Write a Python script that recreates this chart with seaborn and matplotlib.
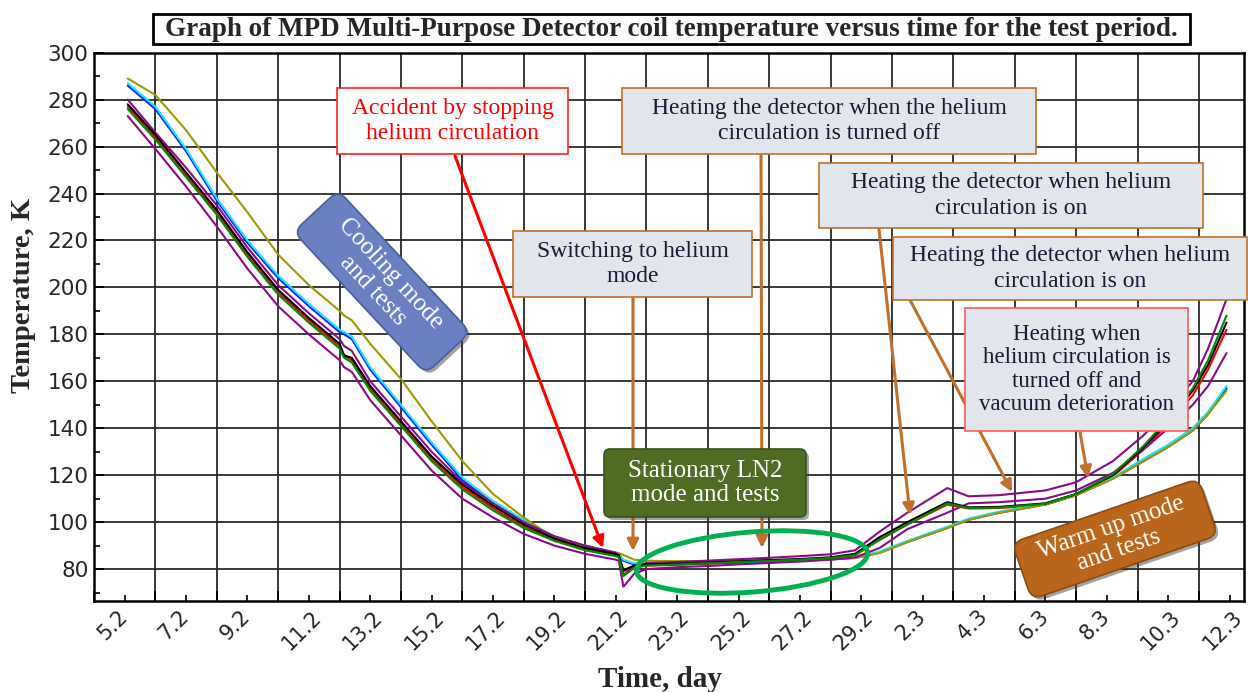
import matplotlib.pyplot as plt
import matplotlib.patches as mpatches
import matplotlib.transforms as mtransforms
from matplotlib.ticker import MultipleLocator
import pandas as pd
import seaborn as sns

# day 0 = 5 Feb; labels every two days
tick_days = list(range(0, 37, 2))
tick_labels = ["5.2", "7.2", "9.2", "11.2", "13.2", "15.2", "17.2", "19.2", "21.2",
               "23.2", "25.2", "27.2", "29.2", "2.3", "4.3", "6.3", "8.3", "10.3", "12.3"]

days = [1.1, 2, 3, 4, 5, 6, 7, 8, 8.15, 8.4, 9, 10, 11, 12, 13, 14, 15, 16, 17,
        17.1, 17.25, 17.6, 18, 19, 20, 21, 22, 23, 24, 24.8, 25.6, 26.5, 27.8,
        28.5, 29.5, 31, 32, 33.2, 34.2, 35, 35.8, 36.3, 36.9]

t_red = [277, 264, 248, 232, 214, 198, 186, 175, 171, 169, 157, 142, 127, 115, 106, 98, 92.5,
         88.5, 86, 85.5, 79, 81, 81.5, 81.8, 82.3, 82.8, 83.3, 83.8, 84.5, 86, 92.5, 99,
         107.5, 105.8, 106, 107.5, 111.5, 119.5, 131, 142, 154, 165, 182]
t_blue = [286, 276, 258, 237, 219, 204, 192, 181, 180, 178, 165, 149, 133, 118, 108, 100, 93.5,
          89, 86.5, 86, 83.5, 82, 82, 82.2, 82.5, 82.8, 83.2, 83.6, 84.1, 84.7, 87, 91.5,
          97.5, 101, 104, 107.5, 111.5, 118.5, 126, 132, 139, 146, 157]
t_cyan = [287, 277, 259, 238, 220, 205, 193, 182, 181, 179, 166, 150, 134, 119, 109, 101, 94,
          89.5, 87, 86.5, 84, 82.5, 82.3, 82.5, 82.8, 83.1, 83.5, 83.9, 84.4, 85, 87.5, 92,
          98, 101.5, 104.5, 108, 112, 119, 127, 133, 140, 147, 158]
t_olive = [289, 282, 267, 249, 232, 214, 201, 190, 188, 186, 176, 161, 143, 126, 112, 102, 93,
           90, 87, 86.8, 86, 84, 83.5, 83.4, 83.4, 83.6, 83.8, 84, 84.3, 84.8, 86.8, 91.5,
           97.5, 101, 104, 107.5, 111.5, 118.5, 126, 132, 139, 146, 156]
t_purple_low = [273, 259, 243, 226, 208, 192, 180, 169, 166, 164, 152, 137, 122, 110, 102, 95, 90,
                86.5, 84, 83.5, 72.5, 78, 80, 80.8, 81.3, 82, 82.6, 83.2, 84, 85, 89, 97,
                104, 108, 108.5, 110, 113.5, 121, 131, 140, 150, 158, 172]
t_purple_up = [280, 266, 251, 235, 217, 201, 189, 178, 175, 173, 160, 145, 130, 117, 108, 100, 94,
               90, 87, 85, 77.5, 81, 82.5, 83, 83.6, 84.2, 84.8, 85.5, 86.3, 88, 96, 104,
               114.5, 111, 111.5, 113.5, 117, 126, 137, 148, 160, 174, 195]
t_black = [278, 265, 249, 233, 215, 199, 187, 176, 171, 170, 158, 143, 128, 116, 107, 99, 93,
           89, 86.5, 86, 79.5, 81.5, 82, 82.3, 82.8, 83.3, 83.8, 84.3, 85, 86.5, 93.6, 100,
           108.5, 106.3, 106.5, 108, 112, 120, 132, 143, 156, 167, 185]
t_green = [276, 263, 247, 231, 213, 197, 185, 174, 170, 168, 156, 141, 126, 114, 105, 97.5, 92,
           88, 85.5, 85, 77, 80.5, 81.5, 82, 82.5, 83, 83.5, 84, 84.7, 86, 92.5, 99,
           108, 106, 106.2, 107.8, 112, 120.5, 132.5, 144, 157, 169, 188]

sensors = {
    "red": (t_red, "#ff0000"),
    "blue": (t_blue, "#1020ff"),
    "cyan": (t_cyan, "#1ce4f2"),
    "olive": (t_olive, "#9c9a00"),
    "purple_low": (t_purple_low, "#8a0a8a"),
    "purple_up": (t_purple_up, "#8a0a8a"),
    "black": (t_black, "#000000"),
    "green": (t_green, "#008a00"),
}

rows = []
for name, (vals, _) in sensors.items():
    for d, t in zip(days, vals):
        rows.append({"day": d, "temp": t, "sensor": name})
df = pd.DataFrame(rows)
palette = {name: c for name, (_, c) in sensors.items()}

sns.set_theme(style="white")
plt.rcParams["font.family"] = ["DejaVu Sans"]
SERIF = "Liberation Serif"

W, H = 1248, 692
fig = plt.figure(figsize=(W / 100, H / 100), dpi=100)
ax = fig.add_axes([94 / W, 1 - 601 / H, 1150 / W, (601 - 52.7) / H])

sns.lineplot(data=df, x="day", y="temp", hue="sensor", hue_order=list(sensors),
             palette=palette, estimator=None, linewidth=1.5, legend=False, ax=ax)

ax.set_xlim(0, 37.47)
ax.set_ylim(66.4, 300)
ax.set_xticks(tick_days)
ax.set_xticklabels(tick_labels, rotation=45, ha="left", va="top", fontsize=15)
ax.xaxis.set_minor_locator(MultipleLocator(1))
ax.yaxis.set_major_locator(MultipleLocator(20))
ax.yaxis.set_minor_locator(MultipleLocator(10))
ax.tick_params(axis="y", labelsize=15.5)
ax.tick_params(which="both", direction="in", color="black", left=True, bottom=True)
ax.tick_params(which="major", length=7, width=1.3, pad=4)
ax.tick_params(which="minor", length=4, width=1.2)
ax.grid(True, which="major", color="#2a2a2a", linewidth=1.3)
ax.set_axisbelow(True)
for s in ax.spines.values():
    s.set_color("black")
    s.set_linewidth(1.8)

ax.set_ylabel("Temperature, K", fontsize=20.5, fontweight="bold", family=SERIF)
ax.yaxis.set_label_coords(-0.05, 0.558)
ax.set_xlabel("Time, day", fontsize=21, fontweight="bold", family=SERIF)
ax.xaxis.set_label_coords(0.492, -0.118)

ident = mtransforms.IdentityTransform()


def note_box(x0, y0, x1, y1, text, fc, ec, tc, size=17, lw=1.2, spacing=1.3):
    fig.add_artist(mpatches.Rectangle((x0, H - y1), x1 - x0, y1 - y0, transform=ident,
                                      facecolor=fc, edgecolor=ec, linewidth=lw))
    fig.text((x0 + x1) / 2 / W, 1 - (y0 + y1) / 2 / H, text, ha="center", va="center",
             color=tc, fontsize=size, family=SERIF, linespacing=spacing)


def arrow(p0, p1, color, lw=2.2):
    fig.add_artist(mpatches.FancyArrowPatch((p0[0], H - p0[1]), (p1[0], H - p1[1]),
                                            transform=ident, arrowstyle="-|>",
                                            mutation_scale=17, color=color, linewidth=lw,
                                            shrinkA=0, shrinkB=0))


def tilted_box(cx, cy, w, h, angle, text, fc, ec, size=18, rounding=11):
    rot = mtransforms.Affine2D().rotate_deg_around(cx, H - cy, angle)
    shadow = mpatches.FancyBboxPatch((cx - w / 2, H - cy - h / 2), w, h,
                                     boxstyle=f"round,pad=0,rounding_size={rounding}",
                                     transform=rot + mtransforms.Affine2D().translate(3, -3),
                                     facecolor="#333333", alpha=0.45, edgecolor="none")
    box = mpatches.FancyBboxPatch((cx - w / 2, H - cy - h / 2), w, h,
                                  boxstyle=f"round,pad=0,rounding_size={rounding}",
                                  transform=rot, facecolor=fc, edgecolor=ec, linewidth=1.2)
    fig.add_artist(shadow)
    fig.add_artist(box)
    fig.text(cx / W, 1 - cy / H, text, rotation=angle, rotation_mode="anchor",
             ha="center", va="center", color="white", fontsize=size, family=SERIF,
             linespacing=1.12)


# title
fig.add_artist(mpatches.Rectangle((153, H - 44), 1037, 30, transform=ident,
                                  facecolor="white", edgecolor="black", linewidth=2))
fig.text(671 / W, 1 - 29.5 / H,
         "Graph of MPD Multi-Purpose Detector coil temperature versus time for the test period.",
         ha="center", va="center", fontsize=19.5, fontweight="bold", family=SERIF)

BROWN = "#c0702a"
GREY = "#e1e5ec"
DARK = "#1a1a33"

arrow((455, 156), (603, 548), "#ff0000")
arrow((761, 155), (762, 548), BROWN)
arrow((633, 298), (633, 551), BROWN)
arrow((879, 229), (910, 515), BROWN)
arrow((910, 300), (1012, 492), BROWN)
arrow((1080, 432), (1088, 478), BROWN)

note_box(337, 88, 568, 154, "Accident by stopping\nhelium circulation", "white", "#ff2020", "#ff0000")
note_box(622, 88, 1036, 154, "Heating the detector when the helium\ncirculation is turned off",
         GREY, BROWN, DARK)
note_box(819, 163, 1203, 228, "Heating the detector when helium\ncirculation is on", GREY, BROWN, DARK)
note_box(893, 237, 1247, 300, "Heating the detector when helium\ncirculation is on", GREY, BROWN, DARK)
note_box(965, 308, 1188, 431, "Heating when\nhelium circulation is\nturned off and\nvacuum deterioration",
         GREY, "#ff5a5a", DARK, size=16.5, spacing=1.15)
note_box(513, 231, 752, 297, "Switching to helium\nmode", GREY, BROWN, DARK)

tilted_box(382, 282, 194, 61, -47, "Cooling mode\nand tests", "#6a80c2", "#4a5d9c", size=18)
tilted_box(1115, 539, 197, 60, 19, "Warm up mode\nand tests", "#b9661c", "#8a4a12", size=18)
tilted_box(705, 483, 202, 68, 0, "Stationary LN2\nmode and tests", "#4f6c25", "#3a5219",
           size=18, rounding=6)

fig.add_artist(mpatches.Ellipse((752, H - 562), 232, 60, angle=4.5, transform=ident,
                                facecolor="none", edgecolor="#00b050", linewidth=3.5))

fig.savefig("out.png", dpi=100)
